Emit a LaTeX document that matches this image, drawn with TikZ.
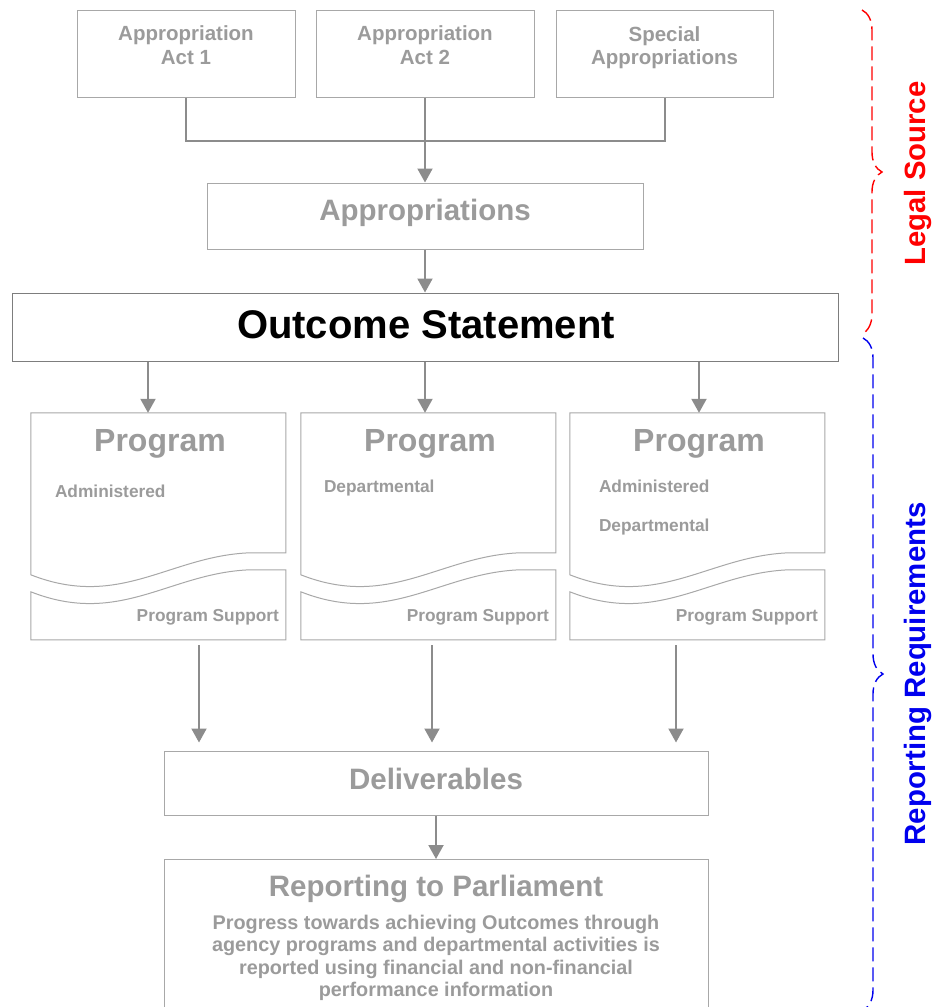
\documentclass[tikz,border=0pt]{standalone}
\usepackage{fontspec}
\setmainfont{Liberation Sans}
\usetikzlibrary{arrows.meta,decorations.pathreplacing}
\definecolor{txtgray}{RGB}{155,155,155}
\definecolor{boxgray}{RGB}{168,168,168}
\definecolor{linegray}{RGB}{140,140,140}
\definecolor{outgray}{RGB}{125,125,125}
\definecolor{legalred}{RGB}{255,0,0}
\definecolor{reportblue}{RGB}{0,0,238}
\newcommand{\fsz}[1]{\fontsize{#1}{1.18\dimexpr#1pt\relax}\selectfont}

\begin{document}
\begin{tikzpicture}[x=1pt,y=-1pt,
  box/.style={draw=boxgray, line width=1pt, fill=white, inner sep=0pt},
  conn/.style={draw=linegray, line width=2pt},
  arr/.style={conn, -{Triangle[width=15pt,length=14pt]}},
  gtxt/.style={text=txtgray, inner sep=0pt},
  bracefig/.style={decorate, decoration={brace, amplitude=20pt}, line width=1.4pt, dash pattern=on 14pt off 6pt}]
\useasboundingbox (0,0) rectangle (935,1007);
% Legal source boxes
\node[box, minimum width=218pt, minimum height=87pt] (act1) at (186,53.5) {};
\node[box, minimum width=218pt, minimum height=87pt] (act2) at (425,53.5) {};
\node[box, minimum width=217pt, minimum height=87pt] (act3) at (664.5,53.5) {};
\node[gtxt, align=center, font=\bfseries\fontsize{20.5}{23.5}\selectfont] (act1txt) at (186,45) {Appropriation\\Act 1};
\node[gtxt, align=center, font=\bfseries\fontsize{20.5}{23.5}\selectfont] (act2txt) at (425,45) {Appropriation\\Act 2};
\node[gtxt, align=center, font=\bfseries\fontsize{20.5}{23.5}\selectfont] (act3txt) at (664.5,47.5) {Special\\Appropriations};
% Joining line and arrow to appropriations
\draw[conn] (act1.south) -- ++(0,43) -| (act3.south);
\node[box, minimum width=436pt, minimum height=66pt, gtxt, font=\bfseries\fsz{29.5}] (approp) at (425,216) {};
\node[gtxt, font=\bfseries\fsz{29.5}] (approptxt) at (425,213) {Appropriations};
\draw[arr] (act2.south) -- (approp.north);
% Outcome statement
\node[box, draw=outgray, minimum width=826pt, minimum height=68pt] (outc) at (425,327) {};
\node[inner sep=0pt, font=\bfseries\fsz{40}] (outctxt) at (426,325) {Outcome Statement};
\draw[arr] (approp.south) -- (outc.north);
% Program boxes (frames only, shapes drawn below)
\node[minimum width=255pt, minimum height=227pt, inner sep=0pt] (prog1) at (158.5,526.5) {};
\node[minimum width=255pt, minimum height=227pt, inner sep=0pt] (prog2) at (428.5,526.5) {};
\node[minimum width=255pt, minimum height=227pt, inner sep=0pt] (prog3) at (697.5,526.5) {};
\foreach \i in {1,2,3} {
  \begin{scope}[shift={(prog\i.north west)}]
  \draw[box] (0,0) -- (255,0) -- (255,140) -- (219,140) .. controls (139,143) and (89,197) .. (0,162) -- cycle;
  \draw[box] (0,179) .. controls (89,214) and (139,160) .. (219,157) -- (255,157) -- (255,227) -- (0,227) -- cycle;
  \end{scope}
  \node[gtxt, font=\bfseries\fsz{32}] (prog\i title) at ([xshift=1.5pt,yshift=-31pt]prog\i.north) {Program};
  \node[gtxt, anchor=east, font=\bfseries\fsz{17.3}] (prog\i sup) at ([xshift=-7pt,yshift=-91pt]prog\i.east) {Program Support};
}
\node[gtxt, anchor=west, font=\bfseries\fsz{17.3}] (prog1adm) at ([xshift=24pt,yshift=-79pt]prog1.north west) {Administered};
\node[gtxt, anchor=west, font=\bfseries\fsz{17.3}] (prog2dep) at ([xshift=23pt,yshift=-75pt]prog2.north west) {Departmental};
\node[gtxt, anchor=west, font=\bfseries\fsz{17.3}] (prog3adm) at ([xshift=29pt,yshift=-74pt]prog3.north west) {Administered};
\node[gtxt, anchor=west, font=\bfseries\fsz{17.3}] (prog3dep) at ([xshift=29pt,yshift=-114pt]prog3.north west) {Departmental};
% Arrows from outcome to programs
\draw[arr] ([xshift=-10.5pt]prog1.north |- outc.south) -- ([xshift=-10.5pt]prog1.north);
\draw[arr] ([xshift=-3.5pt]prog2.north |- outc.south) -- ([xshift=-3.5pt]prog2.north);
\draw[arr] ([xshift=1.5pt]prog3.north |- outc.south) -- ([xshift=1.5pt]prog3.north);
% Deliverables
\node[box, minimum width=544pt, minimum height=64pt] (deliv) at (436,783) {};
\node[gtxt, font=\bfseries\fsz{29.5}] (delivtxt) at (436,779) {Deliverables};
\coordinate (out1) at ([xshift=40.5pt]prog1.south);
\coordinate (out2) at ([xshift=3.5pt]prog2.south);
\coordinate (out3) at ([xshift=-21.5pt]prog3.south);
\foreach \i in {1,2,3}
  \draw[arr, shorten <=5pt, shorten >=8pt] (out\i) -- (out\i |- deliv.north);
% Reporting to parliament
\node[box, minimum width=544pt, minimum height=160pt, anchor=north] (report) at (436,859) {};
\draw[arr] (deliv.south) -- (report.north);
\node[gtxt, font=\bfseries\fsz{29.5}] (reporttitle) at ([yshift=-30pt]report.north) {Reporting to Parliament};
\node[gtxt, align=center, font=\bfseries\fontsize{19.8}{22.5}\selectfont] (reporttxt) at ([yshift=-99pt]report.north) {Progress towards achieving Outcomes through\\agency programs and departmental activities is\\reported using financial and non-financial\\performance information};
% Braces and side labels
\coordinate (legtop) at (862,10);
\coordinate (legbot) at (862,334);
\coordinate (reptop) at (863,338);
\coordinate (repbot) at (863,1010);
\draw[bracefig, draw=legalred] (legtop) -- (legbot);
\draw[bracefig, draw=reportblue] (reptop) -- (repbot);
\node[rotate=90, text=legalred, font=\bfseries\fsz{29.3}] (legal) at (918,173.5) {Legal Source};
\node[rotate=90, text=reportblue, font=\bfseries\fsz{29.4}] (reporting) at (918,674) {Reporting Requirements};
\end{tikzpicture}
\end{document}
